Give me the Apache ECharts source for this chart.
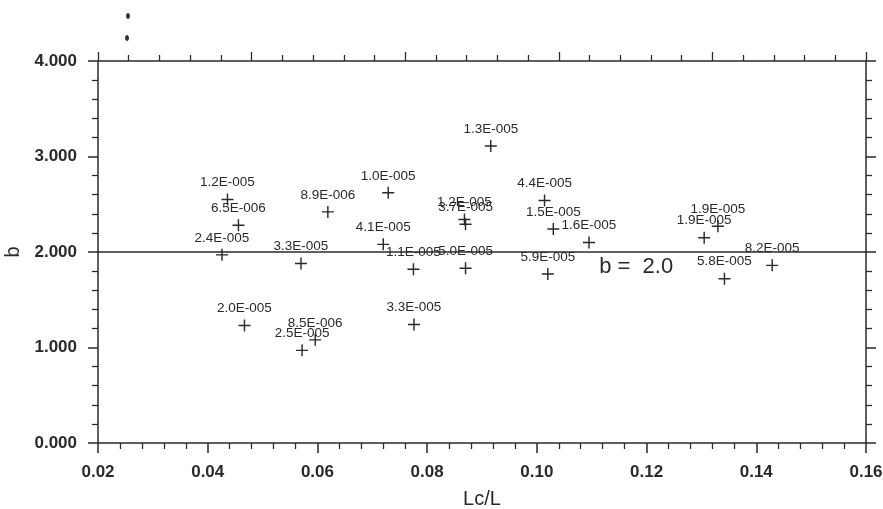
<!DOCTYPE html>
<html>
<head>
<meta charset="utf-8">
<script src="https://cdn.jsdelivr.net/npm/echarts@6/dist/echarts.min.js"></script>
<style>
  html, body { margin: 0; padding: 0; background: #fff; }
  #chart { width: 883px; height: 509px; }
</style>
</head>
<body>
<div id="chart"></div>
<script>
// Lc/L ratio of each run
const lcL = [
  0.0436, 0.0456, 0.0426, 0.0570, 0.0619, 0.0916, 0.0729, 0.0720,
  0.0775, 0.0870, 0.0868, 0.0870, 0.1014, 0.1030, 0.1095, 0.1020,
  0.1305, 0.1330, 0.1342, 0.1429, 0.0467, 0.0596, 0.0572, 0.0776
];
// fitted exponent b of each run
const bValues = [
  2.55, 2.28, 1.97, 1.88, 2.42, 3.11, 2.62, 2.08,
  1.82, 1.83, 2.34, 2.29, 2.54, 2.24, 2.10, 1.77,
  2.15, 2.27, 1.72, 1.86, 1.23, 1.08, 0.97, 1.24
];
// coefficient printed above each point
const pointLabels = [
  '1.2E-005', '6.5E-006', '2.4E-005', '3.3E-005', '8.9E-006', '1.3E-005', '1.0E-005', '4.1E-005',
  '1.1E-005', '5.0E-005', '1.2E-005', '3.7E-005', '4.4E-005', '1.5E-005', '1.6E-005', '5.9E-005',
  '1.9E-005', '1.9E-005', '5.8E-005', '8.2E-005', '2.0E-005', '8.5E-006', '2.5E-005', '3.3E-005'
];
// mean exponent drawn as a reference line
const bMean = 2.0;
const bMeanText = 'b =  2.0';
const bMeanTextAt = [0.1181, 1.84];

const xTicks = { min: 0.02, max: 0.16, step: 0.02 };
const yTicks = { min: 0, max: 4, step: 1 };

const FONT = '"Liberation Sans", Arial, sans-serif';
const INK = '#2a2a2a';
const cross = 'path://M4.4,0h1.2v4.4h4.4v1.2h-4.4v4.4h-1.2v-4.4h-4.4v-1.2h4.4z';

const axisLine = { show: true, onZero: false, lineStyle: { color: INK, width: 1.5 } };

const chart = echarts.init(document.getElementById('chart'), null, { renderer: 'canvas' });

chart.setOption({
  backgroundColor: '#ffffff',
  animation: false,
  grid: { left: 98, right: 17, top: 61, bottom: 66, containLabel: false, outerBoundsMode: 'none' },
  xAxis: [
    {
      type: 'value', position: 'bottom',
      min: xTicks.min, max: xTicks.max, interval: xTicks.step,
      name: 'Lc/L', nameLocation: 'middle', nameGap: 46,
      nameTextStyle: { fontFamily: FONT, fontSize: 20, color: INK },
      axisLine: axisLine,
      axisTick: { show: true, inside: false, length: 10, lineStyle: { color: INK, width: 1.5 } },
      minorTick: { show: true, splitNumber: 5, length: 6, lineStyle: { color: INK, width: 1.3 } },
      splitLine: { show: false },
      axisLabel: { margin: 21, fontFamily: FONT, fontSize: 17, fontWeight: 'bold', color: INK,
        formatter: v => v.toFixed(2) }
    },
    {
      type: 'value', position: 'top',
      min: 0, max: 5, interval: 1,
      axisLine: axisLine,
      axisTick: { show: true, inside: false, length: 9, lineStyle: { color: INK, width: 1.3 } },
      minorTick: { show: true, splitNumber: 5, length: 6, lineStyle: { color: INK, width: 1.3 } },
      splitLine: { show: false },
      axisLabel: { show: false }
    }
  ],
  yAxis: [
    {
      type: 'value', position: 'left',
      min: yTicks.min, max: yTicks.max, interval: yTicks.step,
      name: 'b', nameLocation: 'middle', nameGap: 74, nameRotate: 90,
      nameTextStyle: { fontFamily: FONT, fontSize: 20, color: INK },
      axisLine: axisLine,
      axisTick: { show: true, inside: false, length: 10, lineStyle: { color: INK, width: 1.5 } },
      minorTick: { show: true, splitNumber: 5, length: 6, lineStyle: { color: INK, width: 1.3 } },
      splitLine: { show: false },
      axisLabel: { margin: 21, fontFamily: FONT, fontSize: 17, fontWeight: 'bold', color: INK,
        formatter: v => v.toFixed(3) }
    },
    {
      type: 'value', position: 'right',
      min: yTicks.min, max: yTicks.max, interval: yTicks.step,
      axisLine: axisLine,
      axisTick: { show: true, inside: false, length: 10, lineStyle: { color: INK, width: 1.5 } },
      minorTick: { show: true, splitNumber: 5, length: 6, lineStyle: { color: INK, width: 1.3 } },
      splitLine: { show: false },
      axisLabel: { show: false }
    }
  ],
  series: [
    {
      type: 'scatter',
      xAxisIndex: 0, yAxisIndex: 0,
      symbol: cross,
      symbolSize: 12,
      itemStyle: { color: INK, opacity: 1 },
      data: lcL.map((x, i) => [x, bValues[i], pointLabels[i]]),
      label: {
        show: true, position: 'top', distance: 4,
        fontFamily: FONT, fontSize: 13.5, color: INK,
        formatter: p => p.value[2]
      },
      labelLayout: { hideOverlap: false },
      emphasis: { disabled: true },
      markLine: {
        silent: true, symbol: 'none',
        lineStyle: { color: INK, width: 1.5, type: 'solid' },
        label: { show: false },
        data: [{ yAxis: bMean }]
      },
      markPoint: {
        silent: true, symbol: 'circle', symbolSize: 0,
        label: { show: true, position: 'inside', fontFamily: FONT, fontSize: 22, color: INK,
          formatter: bMeanText },
        data: [{ coord: bMeanTextAt }]
      }
    }
  ],
  graphic: [
    { type: 'ellipse', left: 126, top: 13, shape: { rx: 2, ry: 3 }, style: { fill: '#333' } },
    { type: 'ellipse', left: 125, top: 35, shape: { rx: 2, ry: 3 }, style: { fill: '#333' } }
  ]
});
</script>
</body>
</html>
